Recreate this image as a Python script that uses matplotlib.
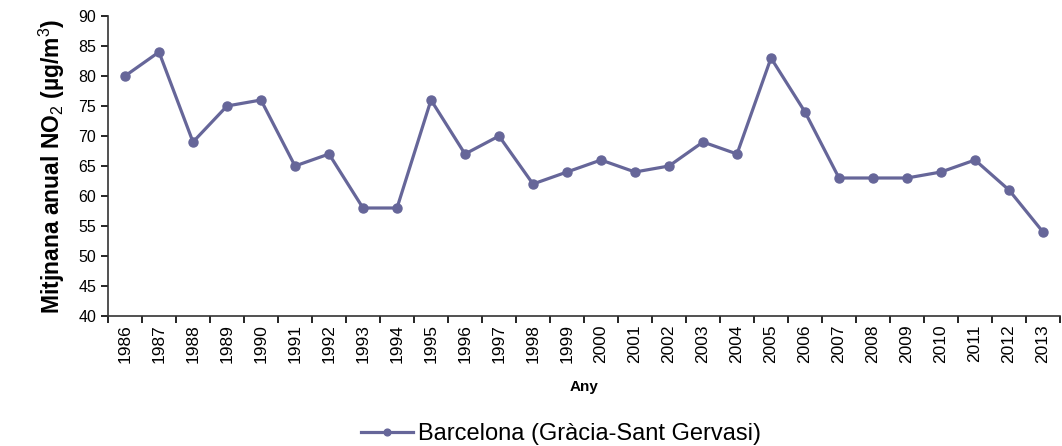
import matplotlib
matplotlib.use('Agg')
import matplotlib.pyplot as plt
import matplotlib as mpl
from matplotlib.ticker import FixedLocator

years = [str(y) for y in range(1986, 2014)]
no2 = [80, 84, 69, 75, 76, 65, 67, 58, 58, 76, 67, 70, 62, 64, 66, 64, 65,
       69, 67, 83, 74, 63, 63, 63, 64, 66, 61, 54]
series_label = 'Barcelona (Gràcia-Sant Gervasi)'

mpl.rcParams['font.family'] = ['Liberation Sans', 'DejaVu Sans']
mpl.rcParams['mathtext.fontset'] = 'custom'
mpl.rcParams['mathtext.rm'] = 'Liberation Sans'
mpl.rcParams['mathtext.it'] = 'Liberation Sans:italic'
mpl.rcParams['mathtext.bf'] = 'Liberation Sans:bold'

fig = plt.figure(figsize=(10.62, 4.46), dpi=100)
ax = fig.add_axes([108/1062, 1-316/446, 952/1062, 300/446])

x = list(range(len(years)))
ax.plot(x, no2, color='#666699', linewidth=2.3, marker='o', markersize=6.5,
        label=series_label)

ax.set_xlim(-0.5, len(years) - 0.5)
ax.set_ylim(40, 90)
ax.set_yticks(range(40, 91, 5))
ax.set_xticks(x)
ax.set_xticklabels(years, rotation=90)
ax.xaxis.set_minor_locator(FixedLocator([i - 0.5 for i in range(len(years) + 1)]))
ax.tick_params(axis='x', which='major', length=0, labelsize=12.5, pad=6)
ax.tick_params(axis='x', which='minor', length=5, width=1.2, direction='out')
ax.tick_params(axis='y', length=5, width=1.2, direction='out', labelsize=11.5)

for s in ['top', 'right']:
    ax.spines[s].set_visible(False)
for s in ['left', 'bottom']:
    ax.spines[s].set_linewidth(1.2)
    ax.spines[s].set_color('#333333')

ax.set_xlabel('Any', fontsize=11, fontweight='bold', labelpad=12)
ax.set_ylabel('Mitjnana anual NO$_2$ (µg/m$^3$)', fontsize=16.5,
              fontweight='bold', labelpad=8)

fig.legend(loc='center', bbox_to_anchor=(0.528, 1-434/446), frameon=False,
           fontsize=17, handlelength=2.2, handletextpad=0.2, markerscale=0.75)

fig.savefig('out.png', dpi=100)
